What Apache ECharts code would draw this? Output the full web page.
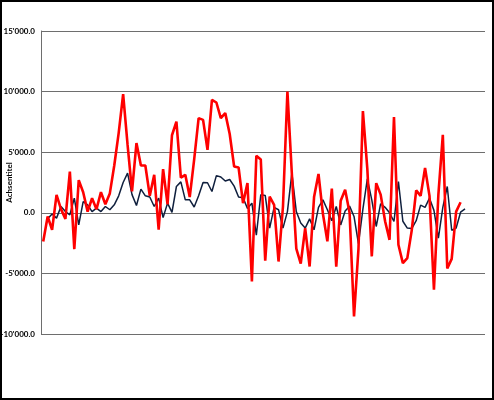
<!DOCTYPE html>
<html>
<head>
<meta charset="utf-8">
<script src="https://cdn.jsdelivr.net/npm/echarts@6/dist/echarts.min.js"></script>
<style>
html,body{margin:0;padding:0;background:#fff;}
#frame{position:absolute;left:0;top:0;width:494px;height:400px;box-sizing:border-box;border:2px solid #000;}
#chart{position:absolute;left:0;top:0;width:494px;height:400px;}
</style>
</head>
<body>
<div id="chart"></div>
<div id="frame"></div>
<script>
const categories = [1,2,3,4,5,6,7,8,9,10,11,12,13,14,15,16,17,18,19,20,21,22,23,24,25,26,27,28,29,30,31,32,33,34,35,36,37,38,39,40,41,42,43,44,45,46,47,48,49,50,51,52,53,54,55,56,57,58,59,60,61,62,63,64,65,66,67,68,69,70,71,72,73,74,75,76,77,78,79,80,81,82,83,84,85,86,87,88,89,90,91,92,93,94,95,96,97,98,99,100];

const redSeries = [-2365,-305,-1400,1485,300,-500,3400,-3000,2700,1700,
  100,1200,300,1700,700,1600,3900,6600,9800,5600,
  1760,5750,3900,3900,1400,3135,-1400,3600,700,6400,
  7530,2900,3135,1300,4400,7810,7670,5200,9320,9100,
  7810,8225,6500,3820,3740,800,2450,-5670,4700,4400,
  -3950,1345,660,-4020,520,10000,3200,-2950,-4200,-1260,
  -4430,1300,3200,-100,-2350,2000,-4450,1000,1900,0,
  -8555,-3000,8400,3600,-3600,2450,1500,-700,-2230,7900,
  -2640,-4150,-3740,-1450,1850,1400,3690,1400,-6350,1500,
  6435,-4600,-3800,100,870];

const blackSeries = [null,-500,-100,-440,520,100,-165,1210,-990,930,
  660,100,390,100,520,250,660,1400,2500,3275,
  1500,600,1950,1400,1300,520,1210,-400,800,30,
  2170,2550,1070,1070,480,1400,2500,2480,1760,3070,
  2950,2620,2750,2200,1300,1250,350,800,-1850,1485,
  1430,-1260,450,250,-1260,100,3275,100,-850,-1260,
  -500,-1400,450,1070,250,-650,520,-1000,150,550,
  -300,-2550,300,2800,1070,-1130,750,450,0,-720,
  2580,-700,-1260,-1300,-650,630,450,1210,200,-2090,
  450,2170,-1440,-1260,50,320];

const yTicks = [-10000,-5000,0,5000,10000,15000];
const axisTitle = 'Achsentitel';

function fmt(v){
  const neg = v < 0;
  let s = Math.abs(v).toFixed(1);
  let [ip, dp] = s.split('.');
  ip = ip.replace(/\B(?=(\d{3})+(?!\d))/g, "'");
  return (neg ? '-' : '') + ip + '.' + dp;
}

const chart = echarts.init(document.getElementById('chart'), null, {renderer:'canvas'});
chart.setOption({
  backgroundColor:'#ffffff',
  animation:false,
  grid:{left:41,right:9,top:31,bottom:66,containLabel:false,outerBoundsMode:'none'},
  xAxis:{
    type:'category',
    data:categories,
    boundaryGap:true,
    axisLine:{show:false},
    axisTick:{show:false},
    axisLabel:{show:false},
    splitLine:{show:false}
  },
  yAxis:{
    type:'value',
    min:yTicks[0],
    max:yTicks[yTicks.length-1],
    interval:5000,
    name:axisTitle,
    nameLocation:'middle',
    nameGap:28,
    nameRotate:90,
    nameMoveOverlap:false,
    nameTextStyle:{fontFamily:'Lato',fontSize:8,fontWeight:'bold',color:'#000'},
    axisLine:{show:true,lineStyle:{color:'#6e6e6e',width:1}},
    axisTick:{show:false},
    axisLabel:{formatter:fmt,fontFamily:'Lato',fontSize:8,fontWeight:'bold',color:'#000',margin:6},
    splitLine:{show:true,lineStyle:{color:'#6e6e6e',width:1}}
  },
  series:[
    {type:'line',data:blackSeries,symbol:'none',connectNulls:false,
     lineStyle:{color:'#0f1f3d',width:1.5},itemStyle:{color:'#0f1f3d'}},
    {type:'line',data:redSeries,symbol:'none',
     lineStyle:{color:'#ff0000',width:2.6},itemStyle:{color:'#ff0000'}}
  ]
});
</script>
</body>
</html>
